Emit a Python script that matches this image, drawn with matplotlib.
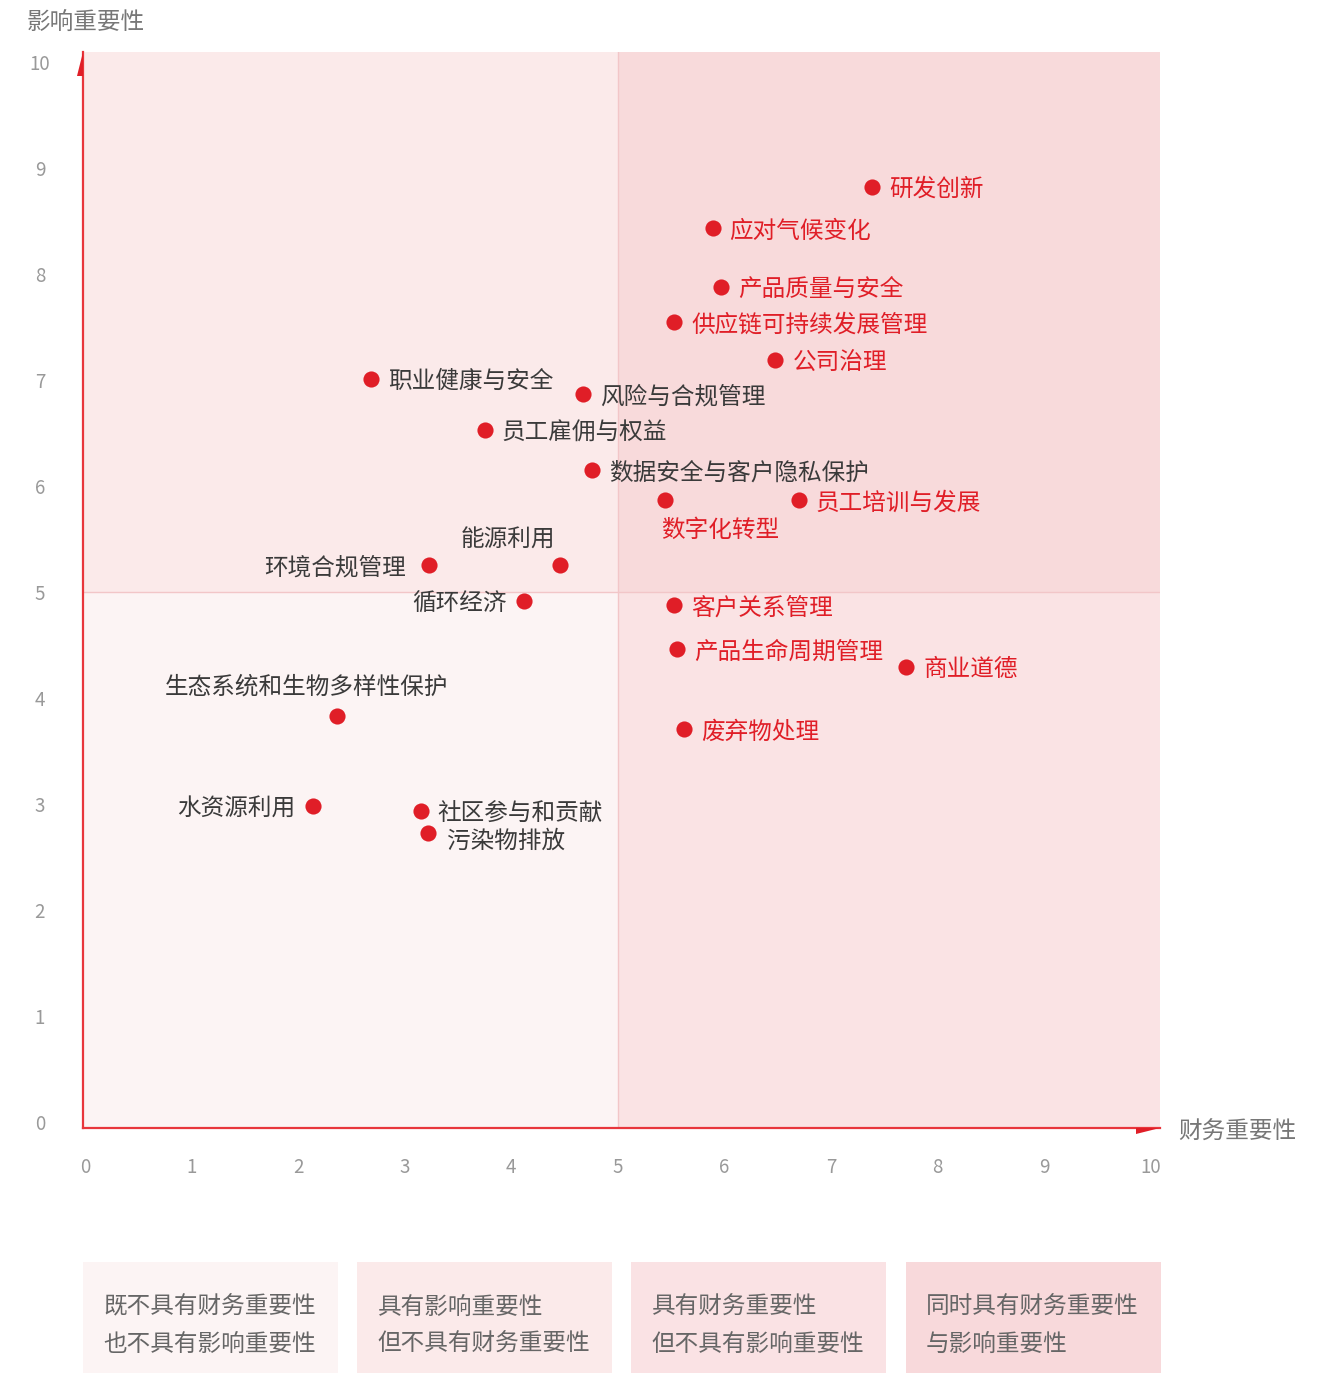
import matplotlib
matplotlib.use("Agg")
import matplotlib.pyplot as plt
from matplotlib.patches import Polygon, Rectangle

plt.rcParams['font.family'] = ['Noto Sans CJK SC', 'DejaVu Sans']

# ---- data ----
topics = ["研发创新", "应对气候变化", "产品质量与安全", "供应链可持续发展管理", "公司治理",
          "职业健康与安全", "风险与合规管理", "员工雇佣与权益", "数据安全与客户隐私保护",
          "数字化转型", "员工培训与发展", "能源利用", "环境合规管理", "循环经济",
          "客户关系管理", "产品生命周期管理", "商业道德", "废弃物处理",
          "生态系统和生物多样性保护", "水资源利用", "社区参与和贡献", "污染物排放"]
financial = [7.39, 5.89, 5.97, 5.53, 6.48,
             2.68, 4.67, 3.75, 4.76,
             5.44, 6.70, 4.46, 3.23, 4.12,
             5.53, 5.56, 7.71, 5.62,
             2.36, 2.14, 3.15, 3.22]
impact = [8.82, 8.43, 7.87, 7.54, 7.18,
          7.01, 6.86, 6.52, 6.15,
          5.86, 5.86, 5.25, 5.25, 4.91,
          4.87, 4.46, 4.29, 3.70,
          3.83, 2.98, 2.93, 2.72]
# label placement: (dx px, dy px, ha)
label_pos = {
    "数字化转型": (-4, -30, "left"),
    "能源利用": (-5, 25, "right"),
    "环境合规管理": (-23, -3, "right"),
    "循环经济": (-17, -3, "right"),
    "生态系统和生物多样性保护": (-30, 29, "center"),
    "水资源利用": (-18, -3, "right"),
    "污染物排放": (19, -8, "left"),
}
x_ticks = list(range(0, 11))
y_ticks = list(range(0, 11))
x_title = "财务重要性"
y_title = "影响重要性"
legend_texts = ["既不具有财务重要性\n也不具有影响重要性",
                "具有影响重要性\n但不具有财务重要性",
                "具有财务重要性\n但不具有影响重要性",
                "同时具有财务重要性\n与影响重要性"]

# ---- style ----
W, H = 1332, 1373
RED = '#e01e27'
DARK = '#3a3a3a'
q_colors = {'bl': '#fcf4f4', 'tl': '#fbeaea', 'br': '#fae3e4', 'tr': '#f8dadb'}
legend_colors = ['#fcf4f4', '#fbeaea', '#fae2e4', '#f8d9db']

fig = plt.figure(figsize=(W / 100, H / 100), dpi=100)

def fx(x):
    return x / W

def fy(y):
    return 1 - y / H

ax_l, ax_r, ax_t, ax_b = 83, 1160, 52, 1128
ax = fig.add_axes([fx(ax_l), fy(ax_b), fx(ax_r - ax_l), (ax_b - ax_t) / H])
xmin, xmax = -0.02, 10.09
ymin, ymax = -0.06, 10.09
ax.set_xlim(xmin, xmax)
ax.set_ylim(ymin, ymax)

mid = 5.0
ax.add_patch(Rectangle((xmin, ymin), mid - xmin, mid - ymin, color=q_colors['bl'], lw=0, zorder=0))
ax.add_patch(Rectangle((xmin, mid), mid - xmin, ymax - mid, color=q_colors['tl'], lw=0, zorder=0))
ax.add_patch(Rectangle((mid, ymin), xmax - mid, mid - ymin, color=q_colors['br'], lw=0, zorder=0))
ax.add_patch(Rectangle((mid, mid), xmax - mid, ymax - mid, color=q_colors['tr'], lw=0, zorder=0))
ax.axvline(mid, color='#f2c6c8', lw=1, zorder=1)
ax.axhline(mid, color='#f2c6c8', lw=1, zorder=1)

for s in ['top', 'right']:
    ax.spines[s].set_visible(False)
for s in ['left', 'bottom']:
    ax.spines[s].set_color('#e8363c')
    ax.spines[s].set_linewidth(1.6)
    ax.spines[s].set_zorder(3)

ax.set_xticks(x_ticks)
ax.set_yticks(y_ticks)
ax.set_xticklabels([str(t) for t in x_ticks])
ax.set_yticklabels([str(t) for t in y_ticks], ha='center')
ax.tick_params(axis='x', length=0, pad=21, labelsize=13.5, labelcolor='#999999')
ax.tick_params(axis='y', length=0, pad=31, labelsize=13.5, labelcolor='#999999')

ax.scatter(financial, impact, s=135, color=RED, zorder=5, linewidths=0)

for name, xv, yv in zip(topics, financial, impact):
    dx, dy, ha = label_pos.get(name, (17, -3, "left"))
    color = RED if xv >= mid else DARK
    ax.annotate(name, (xv, yv), xytext=(dx, dy), textcoords='offset pixels',
                ha=ha, va='center', fontsize=17, color=color, zorder=6)

# axis arrows
fig.patches.append(Polygon([(fx(83), fy(52)), (fx(77), fy(76)), (fx(83), fy(76))],
                           closed=True, transform=fig.transFigure, color='#e01e27', lw=0))
fig.patches.append(Polygon([(fx(1160), fy(1128)), (fx(1136), fy(1128)), (fx(1136), fy(1134))],
                           closed=True, transform=fig.transFigure, color='#e01e27', lw=0))

# axis titles
fig.text(fx(27), fy(22), y_title, fontsize=17, color='#777777', ha='left', va='center')
fig.text(fx(1178), fy(1132), x_title, fontsize=17, color='#777777', ha='left', va='center')

# legend boxes
box_lefts = [83, 357, 631, 906]
box_w = 255
box_top, box_bot = 1262, 1373
for bl, txt, c in zip(box_lefts, legend_texts, legend_colors):
    fig.patches.append(Rectangle((fx(bl), fy(box_bot)), box_w / W, (box_bot - box_top) / H,
                                 transform=fig.transFigure, color=c, lw=0))
    l1, l2 = txt.split("\n")
    fig.text(fx(bl + 20), fy(1307), l1, fontsize=17, color='#666666', ha='left', va='center')
    fig.text(fx(bl + 20), fy(1344), l2, fontsize=17, color='#666666', ha='left', va='center')

fig.savefig('out.png', dpi=100)
